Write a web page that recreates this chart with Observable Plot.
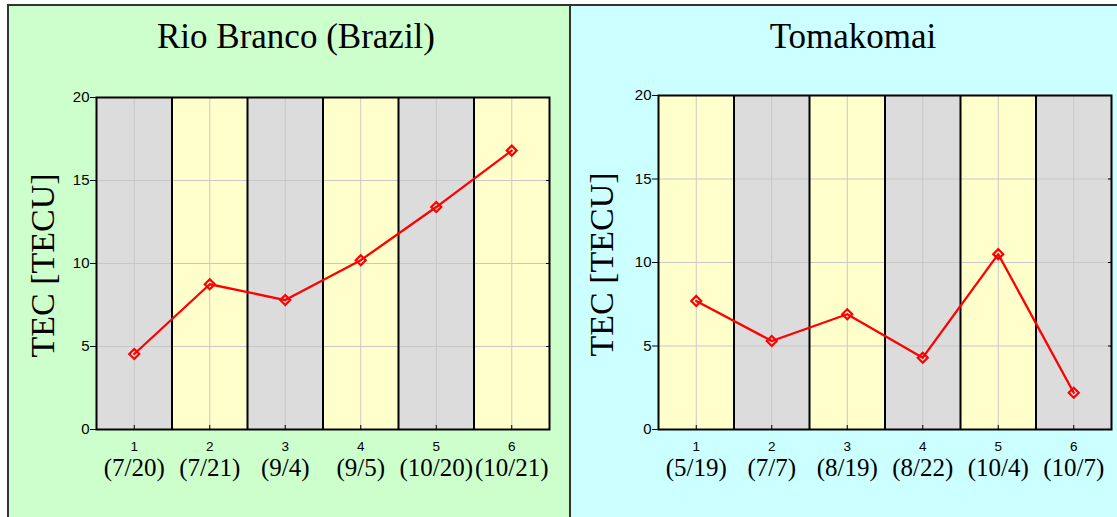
<!DOCTYPE html>
<html>
<head>
<meta charset="utf-8">
<script src="https://cdn.jsdelivr.net/npm/d3@7"></script>
<script src="https://cdn.jsdelivr.net/npm/@observablehq/plot@0.6"></script>
<style>
  html, body { margin: 0; padding: 0; background: #fff; }
  #wrap { position: relative; width: 1117px; height: 517px; overflow: hidden; background: #fff; }
  .panel { position: absolute; }
  .panel svg { display: block; }
  .line { position: absolute; background: #333; }
</style>
</head>
<body>
<div id="wrap">
  <div id="left" class="panel" style="left:8px;top:5px;width:561px;height:512px;background:#ccffcc"></div>
  <div id="right" class="panel" style="left:570px;top:5px;width:547px;height:512px;background:#ccffff"></div>
  <div class="line" style="left:7px;top:4px;width:1110px;height:2px"></div>
  <div class="line" style="left:7px;top:4px;width:2px;height:513px"></div>
  <div class="line" style="left:569px;top:4px;width:1.5px;height:513px"></div>
</div>
<script>
// ---- data ----
const categories = [1, 2, 3, 4, 5, 6];
const yTicks = [0, 5, 10, 15, 20];

const rioTitle = "Rio Branco (Brazil)";
const rioDates = ["(7/20)", "(7/21)", "(9/4)", "(9/5)", "(10/20)", "(10/21)"];
const rioTEC = [4.55, 8.75, 7.8, 10.2, 13.4, 16.8];

const tomaTitle = "Tomakomai";
const tomaDates = ["(5/19)", "(7/7)", "(8/19)", "(8/22)", "(10/4)", "(10/7)"];
const tomaTEC = [7.7, 5.3, 6.9, 4.3, 10.5, 2.2];

const yLabel = "TEC [TECU]";

// ---- drawing ----
const SERIF = "'Liberation Serif', 'Times New Roman', serif";
const SANS = "'Liberation Sans', Arial, sans-serif";
const GRAY = "#dcdcdc", YELLOW = "#ffffcc";

function panel(opts) {
  const {title, dates, values, firstGray, width, ml, mr, mt, mb, titleDx, titleDy, labelDx} = opts;
  const rows = categories.map((c, i) => ({c, v: values[i], date: dates[i], i}));
  const bounds = categories.slice(0, -1).map(c => c + 0.5);
  const bandFill = d => ((d.i % 2 === 0) === firstGray ? GRAY : YELLOW);
  return Plot.plot({
    width, height: 512,
    marginLeft: ml, marginRight: mr, marginTop: mt, marginBottom: mb,
    style: {background: "transparent", overflow: "visible", fontFamily: SANS, color: "#000"},
    x: {domain: [categories[0] - 0.5, categories[categories.length - 1] + 0.5], axis: null},
    y: {domain: [yTicks[0], yTicks[yTicks.length - 1]], axis: null},
    marks: [
      Plot.rect(rows, {x1: d => d.c - 0.5, x2: d => d.c + 0.5, fill: bandFill}),
      Plot.gridX(categories, {stroke: "#c8c8c8", strokeOpacity: 1, strokeWidth: 1}),
      Plot.gridY(yTicks.slice(1, -1), {stroke: "#c8c8c8", strokeOpacity: 1, strokeWidth: 1}),
      Plot.ruleX(bounds, {stroke: "#000", strokeWidth: 2}),
      Plot.axisY(yTicks, {anchor: "left", tickSize: 6, tickFormat: () => "", label: null, stroke: "#000"}),
      Plot.text(yTicks, {y: d => d, text: d => String(d), frameAnchor: "left", textAnchor: "end", dx: -7, fontSize: 15, fontFamily: SANS, fill: "#000"}),
      Plot.axisY(yTicks, {anchor: "right", tickSize: -4, tickFormat: () => "", label: null, stroke: "#000"}),
      Plot.axisX(categories, {anchor: "bottom", tickSize: -4, tickFormat: () => "", label: null, stroke: "#000"}),
      Plot.frame({stroke: "#000", strokeWidth: 2}),
      Plot.line(rows, {x: "c", y: "v", stroke: "#ff0000", strokeWidth: 2.3}),
      Plot.dot(rows, {x: "c", y: "v", symbol: "diamond2", r: 4.5, stroke: "#ff0000", strokeWidth: 2.2, fill: "none"}),
      Plot.text(rows, {x: "c", text: d => String(d.c), frameAnchor: "bottom", dy: 17, lineAnchor: "middle", fontSize: 13.5, fontFamily: SANS, fill: "#000"}),
      Plot.text(rows, {x: "c", text: "date", frameAnchor: "bottom", dy: 46, lineAnchor: "bottom", fontSize: 25, fontFamily: SERIF, fill: "#000"}),
      Plot.text([title], {frameAnchor: "top", dx: titleDx, dy: titleDy, lineAnchor: "bottom", fontSize: 35, fontFamily: SERIF, fill: "#000"}),
      Plot.text([yLabel], {frameAnchor: "left", rotate: -90, dx: labelDx, dy: 2, lineAnchor: "bottom", textAnchor: "middle", fontSize: 34, fontFamily: SERIF, fill: "#000"})
    ]
  });
}

document.getElementById("left").appendChild(panel({
  title: rioTitle, dates: rioDates, values: rioTEC, firstGray: true,
  width: 561, ml: 88, mr: 20, mt: 92, mb: 88, titleDx: -27, titleDy: -50, labelDx: -43
}));
document.getElementById("right").appendChild(panel({
  title: tomaTitle, dates: tomaDates, values: tomaTEC, firstGray: false,
  width: 547, ml: 88, mr: 6, mt: 90, mb: 88, titleDx: -32, titleDy: -48, labelDx: -46
}));
</script>
</body>
</html>
